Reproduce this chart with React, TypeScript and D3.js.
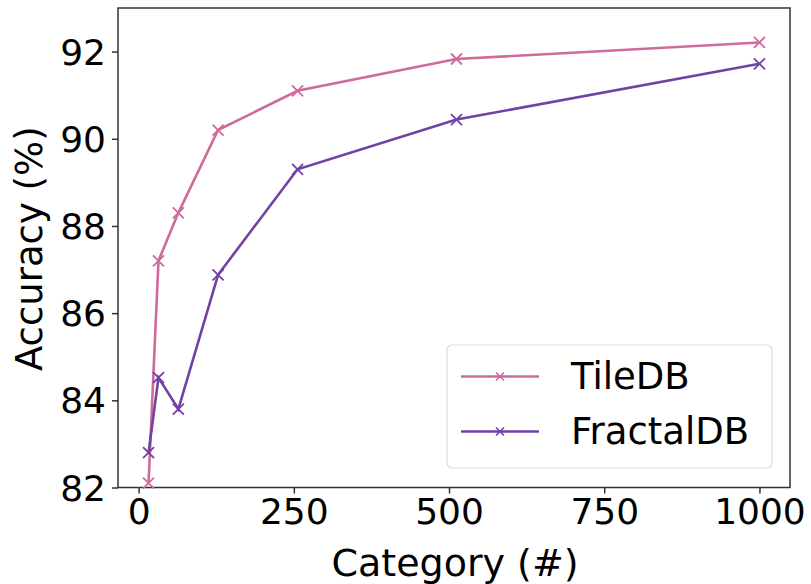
import React, { useEffect, useRef } from "react";
import * as d3 from "d3";

const categories = [16, 32, 64, 128, 256, 512, 1000];
const tileDB = [82.1, 87.2, 88.3, 90.2, 91.1, 91.83, 92.21];
const fractalDB = [82.8, 84.52, 83.8, 86.88, 89.3, 90.44, 91.72];
const xTicks = [0, 250, 500, 750, 1000];
const yTicks = [82, 84, 86, 88, 90, 92];

const series = [
  { name: "TileDB", values: tileDB, color: "#cf6a9c" },
  { name: "FractalDB", values: fractalDB, color: "#7241a4" },
];

const W = 811;
const H = 584;
const FONT = "DejaVu Sans, sans-serif";

export default function App() {
  const svgRef = useRef<SVGSVGElement>(null);

  useEffect(() => {
    const svg = d3.select(svgRef.current);
    svg.selectAll("*").remove();

    const left = 118, right = 790, top = 8, bottom = 487.5;

    const x = d3.scaleLinear().domain([-33.2, 1049.2]).range([left, right]);
    const y = d3.scaleLinear().domain([82, 93]).range([bottom, top]);

    svg.append("rect")
      .attr("width", W).attr("height", H).attr("fill", "#fff");

    // axes
    const xAxis = svg.append("g")
      .attr("transform", `translate(0, ${bottom})`)
      .call(d3.axisBottom(x).tickValues(xTicks).tickSize(6).tickPadding(5).tickFormat(d3.format("d")));
    const yAxis = svg.append("g")
      .attr("transform", `translate(${left}, 0)`)
      .call(d3.axisLeft(y).tickValues(yTicks).tickSize(6).tickPadding(6).tickFormat(d3.format("d")));

    [xAxis, yAxis].forEach(a => {
      a.select(".domain").remove();
      a.selectAll("line").attr("stroke", "#333").attr("stroke-width", 1.5);
      a.selectAll("text")
        .attr("fill", "#000")
        .style("font-family", FONT)
        .style("font-size", "36px");
    });
    yAxis.selectAll("text").attr("dy", "0.35em");

    // frame
    svg.append("rect")
      .attr("x", left).attr("y", top)
      .attr("width", right - left).attr("height", bottom - top)
      .attr("fill", "none").attr("stroke", "#333").attr("stroke-width", 1.5);

    // labels
    svg.append("text")
      .attr("x", (left + right) / 2 + 1)
      .attr("y", 576)
      .attr("text-anchor", "middle")
      .style("font-family", FONT).style("font-size", "38px")
      .text("Category (#)");

    svg.append("text")
      .attr("transform", `translate(42, ${(top + bottom) / 2 + 1}) rotate(-90)`)
      .attr("text-anchor", "middle")
      .style("font-family", FONT).style("font-size", "37px")
      .text("Accuracy (%)");

    const line = d3.line<number>()
      .x((_, i) => x(categories[i]))
      .y(d => y(d));

    const cross = (g: d3.Selection<any, any, any, any>, cx: number, cy: number, r: number, color: string, sw: number) => {
      g.append("path")
        .attr("d", `M${cx - r},${cy - r}L${cx + r},${cy + r}M${cx - r},${cy + r}L${cx + r},${cy - r}`)
        .attr("stroke", color).attr("stroke-width", sw).attr("fill", "none");
    };

    series.forEach(s => {
      const g = svg.append("g");
      g.append("path")
        .datum(s.values)
        .attr("d", line)
        .attr("fill", "none")
        .attr("stroke", s.color)
        .attr("stroke-width", 2.6);
      s.values.forEach((v, i) => cross(g, x(categories[i]), y(v), 5.5, s.color, 1.8));
    });

    // legend
    const lg = svg.append("g");
    lg.append("rect")
      .attr("x", 447).attr("y", 345)
      .attr("width", 325).attr("height", 123)
      .attr("rx", 5)
      .attr("fill", "#fff").attr("fill-opacity", 0.8)
      .attr("stroke", "#ddd").attr("stroke-width", 1.2);
    series.forEach((s, i) => {
      const ly = 376.5 + i * 55;
      lg.append("line")
        .attr("x1", 461).attr("x2", 539)
        .attr("y1", ly).attr("y2", ly)
        .attr("stroke", s.color).attr("stroke-width", 2.6);
      cross(lg, 500, ly, 4, s.color, 1.6);
      lg.append("text")
        .attr("x", 571).attr("y", ly)
        .attr("dy", "0.35em")
        .style("font-family", FONT).style("font-size", "37px")
        .text(s.name);
    });
  }, []);

  return (
    <svg
      ref={svgRef}
      width={W}
      height={H}
      style={{ position: "absolute", left: 0, top: 0 }}
    />
  );
}
